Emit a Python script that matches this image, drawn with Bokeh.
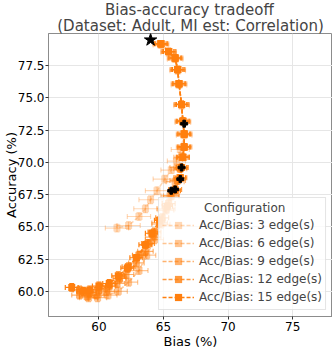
import math
from bokeh.plotting import figure
from bokeh.models import (ColumnDataSource, Range1d, FixedTicker, NumeralTickFormatter,
                          Legend, LegendItem, Title)
from bokeh.embed import file_html
from bokeh.resources import INLINE

# ---------------- data ----------------
labels = ["Acc/Bias: 3 edge(s)", "Acc/Bias: 6 edge(s)", "Acc/Bias: 9 edge(s)",
          "Acc/Bias: 12 edge(s)", "Acc/Bias: 15 edge(s)"]

bias_3 = [64.8, 65.4, 65.9, 66.1, 66.2, 66.4, 66.5, 66.6, 66.3, 66.0, 65.6, 65.1, 64.5, 64.0, 63.6, 63.1, 62.3, 61.4]
acc_3 = [79.1, 78.5, 78.0, 77.1, 76.0, 74.4, 73.1, 72.1, 71.0, 70.1, 69.4, 68.7, 67.8, 67.1, 66.4, 65.8, 65.1, 64.9]
bias_err_3 = [0.6, 0.6, 0.6, 0.6, 0.6, 0.6, 0.6, 0.6, 0.7, 0.7, 0.8, 0.9, 0.9, 0.9, 0.9, 0.9, 0.9, 0.9]
acc_err_3 = [0.25, 0.25, 0.25, 0.25, 0.25, 0.25, 0.25, 0.25, 0.25, 0.25, 0.25, 0.3, 0.3, 0.3, 0.3, 0.3, 0.3, 0.3]

bias_6 = [64.8, 65.4, 65.9, 66.1, 66.2, 66.4, 66.5, 66.6, 66.6, 66.4, 66.2, 65.9, 65.5, 65.2, 64.8, 64.3, 63.7, 63.1, 62.3, 61.5, 60.7, 59.9, 59.2]
acc_6 = [79.2, 78.6, 78.1, 77.2, 76.1, 74.5, 73.2, 72.2, 71.2, 70.4, 69.6, 68.5, 67.4, 66.4, 65.2, 64.0, 62.8, 61.6, 60.7, 60.0, 59.7, 59.5, 59.5]
bias_err_6 = [0.6, 0.6, 0.6, 0.6, 0.6, 0.6, 0.6, 0.6, 0.6, 0.6, 0.7, 0.7, 0.7, 0.7, 0.7, 0.7, 0.7, 0.7, 0.7, 0.7, 0.7, 0.7, 0.7]
acc_err_6 = [0.25, 0.25, 0.25, 0.25, 0.25, 0.25, 0.25, 0.25, 0.25, 0.25, 0.25, 0.3, 0.3, 0.3, 0.3, 0.3, 0.3, 0.3, 0.3, 0.3, 0.3, 0.3, 0.3]

bias_9 = [64.8, 65.4, 65.9, 66.1, 66.2, 66.4, 66.5, 66.6, 66.6, 66.5, 66.3, 66.1, 65.6, 65.2, 64.7, 64.2, 63.6, 62.9, 62.1, 61.4, 60.6, 59.8, 59.1, 58.5]
acc_9 = [79.2, 78.6, 78.1, 77.2, 76.1, 74.5, 73.2, 72.2, 71.2, 70.4, 69.5, 68.6, 67.4, 66.3, 65.3, 64.2, 63.1, 62.2, 61.3, 60.6, 60.0, 59.7, 59.6, 59.7]
bias_err_9 = [0.5, 0.5, 0.5, 0.5, 0.5, 0.5, 0.5, 0.5, 0.5, 0.5, 0.5, 0.6, 0.6, 0.6, 0.6, 0.6, 0.6, 0.6, 0.6, 0.6, 0.6, 0.6, 0.6, 0.6]
acc_err_9 = [0.25, 0.25, 0.25, 0.25, 0.25, 0.25, 0.25, 0.25, 0.25, 0.25, 0.25, 0.3, 0.3, 0.3, 0.3, 0.3, 0.3, 0.3, 0.3, 0.3, 0.3, 0.3, 0.3, 0.3]

bias_12 = [64.8, 65.4, 65.9, 66.1, 66.2, 66.4, 66.5, 66.6, 66.6, 66.5, 66.4, 66.3, 65.9, 65.4, 64.9, 64.3, 63.8, 63.1, 62.3, 61.6, 60.8, 60.0, 59.3, 58.5]
acc_12 = [79.2, 78.6, 78.1, 77.2, 76.1, 74.5, 73.2, 72.2, 71.2, 70.4, 69.6, 68.8, 67.9, 66.8, 65.7, 64.6, 63.7, 62.8, 61.9, 61.0, 60.4, 60.1, 59.9, 60.1]
bias_err_12 = [0.5, 0.5, 0.5, 0.5, 0.5, 0.5, 0.5, 0.5, 0.5, 0.5, 0.5, 0.5, 0.5, 0.5, 0.5, 0.5, 0.5, 0.5, 0.5, 0.5, 0.5, 0.5, 0.5, 0.5]
acc_err_12 = [0.25, 0.25, 0.25, 0.25, 0.25, 0.25, 0.25, 0.25, 0.25, 0.25, 0.25, 0.25, 0.3, 0.3, 0.3, 0.3, 0.3, 0.3, 0.3, 0.3, 0.3, 0.3, 0.3, 0.3]

bias_15 = [64.8, 65.4, 65.9, 66.1, 66.2, 66.4, 66.5, 66.6, 66.6, 66.5, 66.4, 66.3, 65.9, 65.3, 64.7, 64.1, 63.6, 62.9, 62.2, 61.5, 60.8, 60.0, 59.3, 58.8, 57.9]
acc_15 = [79.2, 78.6, 78.1, 77.2, 76.1, 74.5, 73.2, 72.2, 71.2, 70.4, 69.6, 68.8, 67.8, 66.6, 65.5, 64.5, 63.6, 62.6, 61.8, 61.2, 60.6, 60.4, 60.1, 60.0, 60.3]
bias_err_15 = [0.4, 0.4, 0.4, 0.4, 0.4, 0.4, 0.4, 0.4, 0.4, 0.4, 0.4, 0.4, 0.4, 0.4, 0.4, 0.5, 0.5, 0.5, 0.5, 0.5, 0.5, 0.5, 0.5, 0.5, 0.5]
acc_err_15 = [0.2, 0.2, 0.2, 0.2, 0.2, 0.2, 0.2, 0.2, 0.2, 0.2, 0.2, 0.2, 0.25, 0.25, 0.25, 0.25, 0.25, 0.25, 0.3, 0.3, 0.3, 0.3, 0.3, 0.3, 0.3]

# black reference markers
star_bias = [64.0]
star_acc = [79.5]
ref_bias = [66.6, 66.4, 66.3, 65.6, 65.9]
ref_acc = [73.0, 69.6, 68.7, 67.8, 67.9]
ref_bias_err = [0.2, 0.2, 0.2, 0.2, 0.2]
ref_acc_err = [0.2, 0.2, 0.2, 0.2, 0.2]

x_ticks = [60, 65, 70, 75]
y_ticks = [60.0, 62.5, 65.0, 67.5, 70.0, 72.5, 75.0, 77.5]

title_lines = ["Bias-accuracy tradeoff", "(Dataset: Adult, MI est: Correlation)"]
x_label = "Bias (%)"
y_label = "Accuracy (%)"
legend_title = "Configuration"

series = [
    (bias_3, acc_3, bias_err_3, acc_err_3),
    (bias_6, acc_6, bias_err_6, acc_err_6),
    (bias_9, acc_9, bias_err_9, acc_err_9),
    (bias_12, acc_12, bias_err_12, acc_err_12),
    (bias_15, acc_15, bias_err_15, acc_err_15),
]
alphas = [0.3, 0.45, 0.6, 0.8, 1.0]
ORANGE = "#ff7f0e"
FONT = "DejaVu Sans"
NBSP = "\u00a0"

# ---------------- figure ----------------
p = figure(width=332, height=351, output_backend="svg", toolbar_location=None,
           title=None,
           x_range=Range1d(56.1, 78.08), y_range=Range1d(58.04, 80.0),
           min_border_left=46, min_border_right=0, min_border_top=33, min_border_bottom=33)
p.background_fill_color = "white"
p.border_fill_color = "white"
p.outline_line_color = "#8c8c8c"
p.outline_line_width = 1

# two-line title; first line padded so that it sits centred over the second
p.add_layout(Title(text=NBSP * 10 + title_lines[0] + "\n" + title_lines[1], align="center",
                   text_font=FONT, text_font_size="15px", text_font_style="normal",
                   text_line_height=0.87, standoff=-3), "above")

p.xaxis.ticker = FixedTicker(ticks=x_ticks)
p.yaxis.ticker = FixedTicker(ticks=y_ticks)
p.yaxis.formatter = NumeralTickFormatter(format="0.0")
for ax in (p.xaxis, p.yaxis):
    ax.axis_line_color = "#8c8c8c"
    ax.major_tick_line_color = "#333333"
    ax.major_tick_out = 3
    ax.major_tick_in = 0
    ax.minor_tick_line_color = None
    ax.major_label_text_font = FONT
    ax.major_label_text_font_size = "12px"
    ax.major_label_text_color = "black"
    ax.major_label_standoff = 2
    ax.axis_label_text_font = FONT
    ax.axis_label_text_font_size = "13px"
    ax.axis_label_text_font_style = "normal"
    ax.axis_label_text_color = "black"
    ax.axis_label_standoff = 0
p.yaxis.major_label_standoff = 1
p.yaxis.axis_label_standoff = -4
p.xaxis.axis_label = x_label
p.yaxis.axis_label = y_label

p.grid.grid_line_color = "#e6e6e6"
p.grid.grid_line_width = 1

items = []
for (bx, ay, bex, aey), a, lab in zip(series, alphas, labels):
    src = ColumnDataSource(dict(
        x=bx, y=ay,
        xl=[v - e for v, e in zip(bx, bex)], xr=[v + e for v, e in zip(bx, bex)],
        yl=[v - e for v, e in zip(ay, aey)], yu=[v + e for v, e in zip(ay, aey)],
    ))
    p.segment(x0="xl", y0="y", x1="xr", y1="y", source=src, line_color=ORANGE,
              line_alpha=a, line_width=1.2)
    p.segment(x0="x", y0="yl", x1="x", y1="yu", source=src, line_color=ORANGE,
              line_alpha=a, line_width=1.2)
    p.scatter(x="xl", y="y", source=src, marker="dash", angle=math.pi / 2, size=5,
              line_color=ORANGE, line_alpha=a, line_width=1.2)
    p.scatter(x="xr", y="y", source=src, marker="dash", angle=math.pi / 2, size=5,
              line_color=ORANGE, line_alpha=a, line_width=1.2)
    p.scatter(x="x", y="yl", source=src, marker="dash", size=5,
              line_color=ORANGE, line_alpha=a, line_width=1.2)
    p.scatter(x="x", y="yu", source=src, marker="dash", size=5,
              line_color=ORANGE, line_alpha=a, line_width=1.2)
    lr = p.line(x="x", y="y", source=src, line_color=ORANGE, line_alpha=a,
                line_width=1.5, line_dash="4 2")
    sr = p.scatter(x="x", y="y", source=src, marker="square", size=7,
                   fill_color=ORANGE, fill_alpha=a, line_color=None)
    items.append(LegendItem(label=lab, renderers=[lr, sr]))

# black reference markers
rsrc = ColumnDataSource(dict(
    x=ref_bias, y=ref_acc,
    xl=[v - e for v, e in zip(ref_bias, ref_bias_err)], xr=[v + e for v, e in zip(ref_bias, ref_bias_err)],
    yl=[v - e for v, e in zip(ref_acc, ref_acc_err)], yu=[v + e for v, e in zip(ref_acc, ref_acc_err)],
))
p.segment(x0="xl", y0="y", x1="xr", y1="y", source=rsrc, line_color="black", line_width=1.2)
p.segment(x0="x", y0="yl", x1="x", y1="yu", source=rsrc, line_color="black", line_width=1.2)
p.scatter(x="x", y="y", source=rsrc, marker="plus", size=7, fill_color="black",
          line_color="black")
p.scatter(x=star_bias, y=star_acc, marker="star", size=13, fill_color="black",
          line_color="black")

legend = Legend(items=items, location="bottom_right", title=NBSP * 11 + legend_title,
                title_text_font=FONT, title_text_font_size="12px",
                title_text_font_style="normal", title_standoff=1,
                label_text_font=FONT, label_text_font_size="12px",
                label_height=18, glyph_height=18, glyph_width=32, spacing=0,
                label_standoff=5, padding=3, margin=6,
                background_fill_color="white", background_fill_alpha=0.8,
                border_line_color="#cccccc", border_line_width=1)
p.add_layout(legend)

open("out.html", "w").write(file_html(p, INLINE))
